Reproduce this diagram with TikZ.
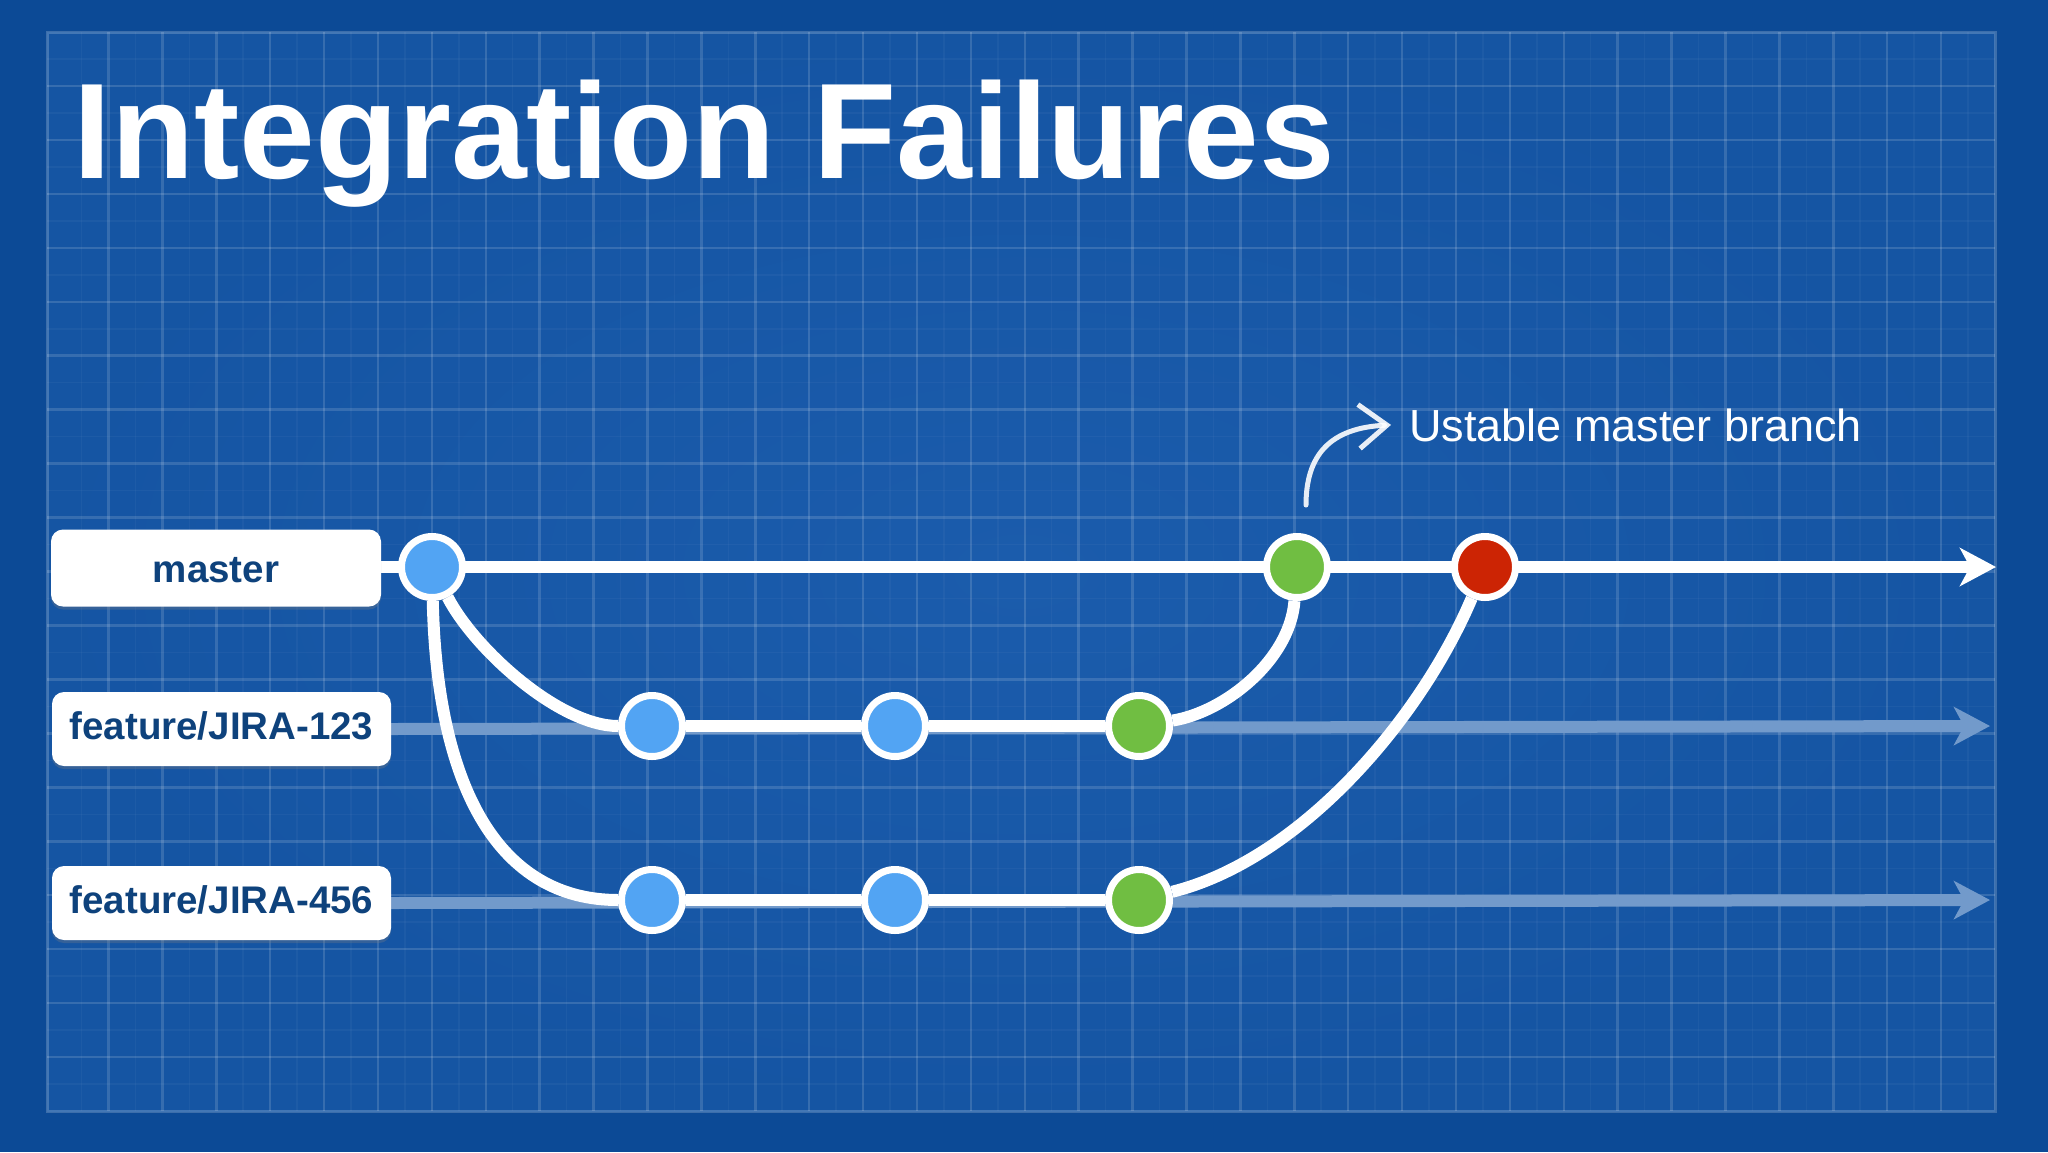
\documentclass[tikz,border=0pt]{standalone}
\usepackage{fontspec}
\setmainfont{Liberation Sans}
\usetikzlibrary{arrows.meta,shadows}
\definecolor{bgdark}{RGB}{12,74,150}
\definecolor{bgmid}{RGB}{27,92,172}
\definecolor{commitblue}{RGB}{82,164,243}
\definecolor{commitgreen}{RGB}{112,190,66}
\definecolor{commitred}{RGB}{204,36,4}
\definecolor{labeltext}{RGB}{14,66,124}
\colorlet{fadedwhite}{white!38!bgmid}
\pgfdeclarelayer{bg}
\pgfdeclarelayer{lines}
\pgfsetlayers{bg,lines,main}
\tikzstyle{commit} = [circle, inner sep=0pt, minimum size=61pt, draw=white, line width=7pt]
\tikzstyle{branchlabel} = [rectangle, rounded corners=12pt, fill=white, text=labeltext, inner sep=0pt, font=\fontsize{38.5}{46}\selectfont\bfseries, drop shadow={opacity=0.3, shadow xshift=0pt, shadow yshift=-3pt}]
\tikzstyle{mainline} = [white, line width=12pt]
\tikzstyle{fadedline} = [fadedwhite, line width=12pt, -{Stealth[length=36pt, width=38pt, inset=10pt]}]
\tikzstyle{gridline} = [white, opacity=0.14, line width=2.5pt]
\tikzstyle{gridminor} = [white, opacity=0.035, line width=1.5pt]
\tikzstyle{sketch} = [white, opacity=0.9, line width=5pt, line cap=round, -{Straight Barb[length=28pt, width=44pt]}]

\begin{document}
\begin{tikzpicture}[x=1pt, y=-1pt]
\useasboundingbox (0,0) rectangle (2048,1152);

% labels and commits
\node[branchlabel, minimum width=330pt, minimum height=77pt, text height=28pt, text depth=0pt] (lblmaster) at (216,568) {master};
\node[branchlabel, minimum width=339pt, minimum height=74pt, text height=24pt, text depth=3pt] (lbl123) at (221.5,729) {feature/JIRA-123};
\node[branchlabel, minimum width=339pt, minimum height=74pt, text height=24pt, text depth=3pt] (lbl456) at (221.5,903) {feature/JIRA-456};

\node[commit, fill=commitblue] (m0) at (432,567) {};
\node[commit, fill=commitgreen] (m1) at (1297,567) {};
\node[commit, fill=commitred] (m2) at (1485,567) {};
\node[commit, fill=commitblue] (a1) at (652,726) {};
\node[commit, fill=commitblue] (a2) at (895,726) {};
\node[commit, fill=commitgreen] (a3) at (1139,726) {};
\node[commit, fill=commitblue] (b1) at (652,900) {};
\node[commit, fill=commitblue] (b2) at (895,900) {};
\node[commit, fill=commitgreen] (b3) at (1139,900) {};

\coordinate (mend) at (1996,567);
\coordinate (aend) at (1990,726);
\coordinate (bend) at (1990,900);

\node[anchor=base west, inner sep=0pt, text=white, font=\fontsize{136}{160}\selectfont\bfseries] (title) at (73,178) {Integration Failures};
\node[anchor=base west, inner sep=0pt, text=white, font=\fontsize{45}{54}\selectfont] (note) at (1409,441) {Ustable master branch};
\coordinate (sk0) at (1306,505);

\begin{pgfonlayer}{lines}
\draw[fadedline] (lbl123.east) -- (aend);
\draw[fadedline] (lbl456.east) -- (bend);
\draw[mainline, -{Stealth[length=36pt, width=38pt, inset=10pt]}] (lblmaster.east |- m0) -- (mend);
\draw[mainline] (m0) .. controls (475,650) and (560,726) .. (a1);
\draw[mainline] (m0) .. controls (437,790) and (500,900) .. (b1);
\draw[mainline] (a1) -- (a2) -- (a3);
\draw[mainline] (b1) -- (b2) -- (b3);
\draw[mainline] (a3) .. controls (1225,712) and (1290,660) .. (m1);
\draw[mainline] (b3) .. controls (1300,860) and (1420,720) .. (m2);
\draw[sketch] (sk0) .. controls (1306,455) and (1330,428) .. ([xshift=-18pt]note.west);
\end{pgfonlayer}

% blueprint background
\begin{pgfonlayer}{bg}
\fill[bgdark] (0,0) rectangle (2048,1152);
\shade[inner color=bgmid, outer color=bgdark!40!bgmid] (47,32) rectangle (1995,1111);
\foreach \i in {0,...,35}
  \draw[gridminor] ({1968-\i*53.9},32) -- ({1968-\i*53.9},1111);
\foreach \j in {0,...,19}
  \draw[gridminor] (47,{59+\j*53.95}) -- (1995,{59+\j*53.95});
\foreach \i in {1,...,35}
  \draw[gridline] ({1995-\i*53.9},32) -- ({1995-\i*53.9},1111);
\foreach \j in {1,...,19}
  \draw[gridline] (47,{32+\j*53.95}) -- (1995,{32+\j*53.95});
\draw[white, opacity=0.2, line width=3pt] (47,32) rectangle (1995,1111);
\end{pgfonlayer}
\end{tikzpicture}
\end{document}
